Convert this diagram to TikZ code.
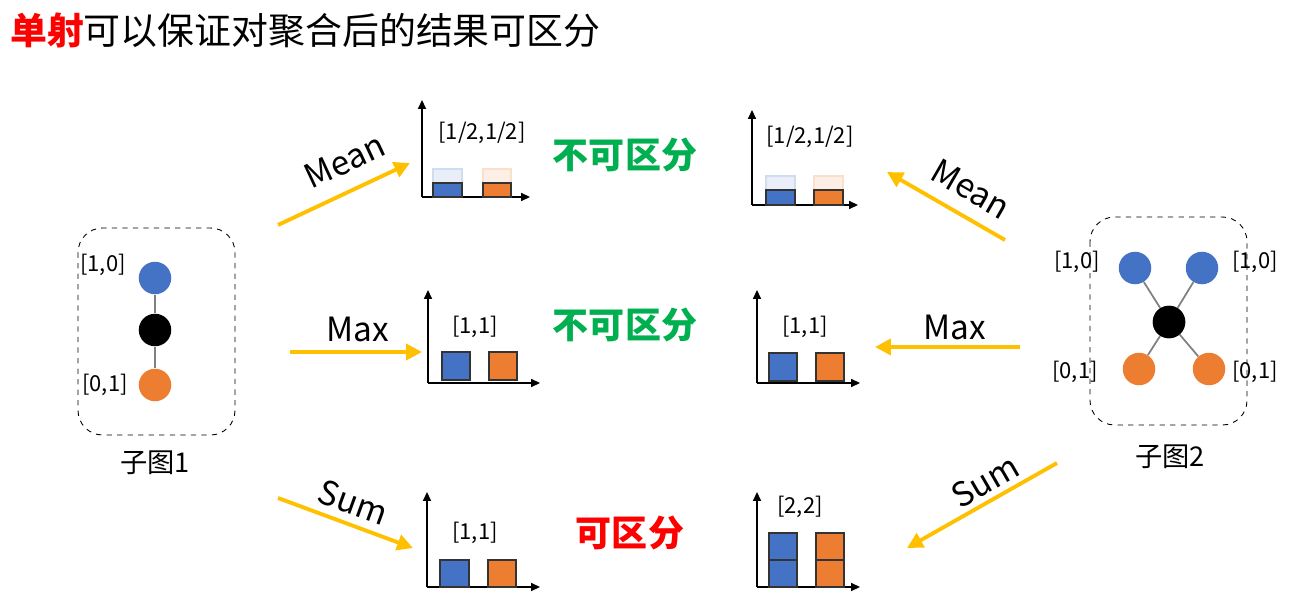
\documentclass[tikz,border=0pt]{standalone}
\usepackage{fontspec}
\setmainfont{Noto Sans CJK SC}
\usetikzlibrary{arrows.meta}
\definecolor{cblue}{HTML}{4472C4}
\definecolor{corange}{HTML}{ED7D31}
\definecolor{cyel}{HTML}{FFC000}
\definecolor{cgreen}{HTML}{00B050}
\tikzset{
 arr/.style={cyel,line width=2.2pt,-{Triangle[length=9pt,width=9pt]}},
 axis/.style={black,line width=0.8pt,-{Triangle[length=5pt,width=4.5pt]}},
 bb/.style={fill=cblue,draw=black!80,line width=0.6pt},
 ob/.style={fill=corange,draw=black!80,line width=0.6pt},
 fb/.style={fill=cblue!12,draw=cblue!25,line width=0.6pt},
 fo/.style={fill=corange!12,draw=corange!25,line width=0.6pt},
 lab/.style={font=\fontsize{12.5}{14}\selectfont},
 alab/.style={font=\fontsize{19}{21}\selectfont},
 verd/.style={font=\fontsize{20.5}{23}\selectfont\bfseries},
 dot/.style={circle,minimum size=18.5pt,inner sep=0pt},
}
\begin{document}
\begin{tikzpicture}[x=0.02cm,y=-0.02cm]
\useasboundingbox (0,0) rectangle (1309,615);
\node[anchor=west,font=\fontsize{21}{24}\selectfont] (title) at (4,30) {\textcolor{red}{\bfseries 单射}可以保证对聚合后的结果可区分};
% subgraph 1
\draw[dashed,rounded corners=14pt,line width=0.5pt] (78,228) rectangle (235,435);
\node[dot,fill=cblue] (a1) at (155,278) {};
\node[dot,fill=black] (a2) at (155,330) {};
\node[dot,fill=corange] (a3) at (155,385) {};
\draw[gray,line width=1pt] (a1)--(a2)--(a3);
\node[lab] (l1) at (103,265) {[1,0]};
\node[lab] (l2) at (105,385) {[0,1]};
\node[font=\fontsize{15.5}{17}\selectfont] (s1) at (155,463) {子图1};
% subgraph 2
\draw[dashed,rounded corners=14pt,line width=0.5pt] (1090,217) rectangle (1247,425);
\node[dot,fill=black] (c) at (1169,322) {};
\node[dot,fill=cblue] (b1) at (1135,268) {};
\node[dot,fill=cblue] (b2) at (1202,268) {};
\node[dot,fill=corange] (b3) at (1139,369) {};
\node[dot,fill=corange] (b4) at (1209,369) {};
\foreach \n in {b1,b2,b3,b4} \draw[gray,line width=1pt] (c)--(\n);
\node[dot,fill=black] at (1169,322) {};
\node[lab] (m1) at (1077,262) {[1,0]};
\node[lab] (m2) at (1255,262) {[1,0]};
\node[lab] (m3) at (1075,372) {[0,1]};
\node[lab] (m4) at (1255,372) {[0,1]};
\node[font=\fontsize{15.5}{17}\selectfont] (s2) at (1170,457) {子图2};
% arrows
\draw[arr] (278,225)--(410,163);
\node[alab,rotate=25] (t1) at (345,161) {Mean};
\draw[arr] (290,352)--(422,352);
\node[alab] (t2) at (358,329) {Max};
\draw[arr] (278,498)--(413,548);
\node[alab,rotate=-20] (t3) at (353,502) {Sum};
\draw[arr] (1005,240)--(887,172);
\node[alab,rotate=-30] (t4) at (971,189) {Mean};
\draw[arr] (1020,347)--(875,347);
\node[alab] (t5) at (955,327) {Max};
\draw[arr] (1057,463)--(907,548);
\node[alab,rotate=30] (t6) at (985,481) {Sum};
% chart 1
\draw[axis] (422,197)--(422,100); \draw[axis] (422,197)--(530,197);
\draw[fb] (433,169) rectangle (462,183); \draw[fo] (483,169) rectangle (511,183);
\draw[bb] (433,183) rectangle (462,197); \draw[ob] (483,183) rectangle (511,197);
\node[lab] (g1) at (482,133) {[1/2,1/2]};
% chart 2
\draw[axis] (752,205)--(752,110); \draw[axis] (752,205)--(858,205);
\draw[fb] (766,176) rectangle (795,190); \draw[fo] (814,176) rectangle (843,190);
\draw[bb] (766,190) rectangle (795,205); \draw[ob] (814,190) rectangle (843,205);
\node[lab] (g2) at (810,137) {[1/2,1/2]};
% chart 3
\draw[axis] (428,383)--(428,290); \draw[axis] (428,383)--(540,383);
\draw[bb] (442,352) rectangle (470,380); \draw[ob] (489,352) rectangle (517,380);
\node[lab] (g3) at (475,327) {[1,1]};
% chart 4
\draw[axis] (757,383)--(757,290); \draw[axis] (757,383)--(860,383);
\draw[bb] (769,353) rectangle (797,381); \draw[ob] (816,353) rectangle (844,381);
\node[lab] (g4) at (805,327) {[1,1]};
% chart 5
\draw[axis] (427,587)--(427,492); \draw[axis] (427,587)--(540,587);
\draw[bb] (440,560) rectangle (469,587); \draw[ob] (488,560) rectangle (516,587);
\node[lab] (g5) at (475,533) {[1,1]};
% chart 6
\draw[axis] (757,587)--(757,492); \draw[axis] (757,587)--(860,587);
\draw[bb] (769,533) rectangle (797,560); \draw[bb] (769,560) rectangle (797,587);
\draw[ob] (816,533) rectangle (844,560); \draw[ob] (816,560) rectangle (844,587);
\node[lab] (g6) at (800,507) {[2,2]};
% verdicts
\node[verd,text=cgreen] (v1) at (625,155) {不可区分};
\node[verd,text=cgreen] (v2) at (625,325) {不可区分};
\node[verd,text=red] (v3) at (630,533) {可区分};
\end{tikzpicture}
\end{document}
